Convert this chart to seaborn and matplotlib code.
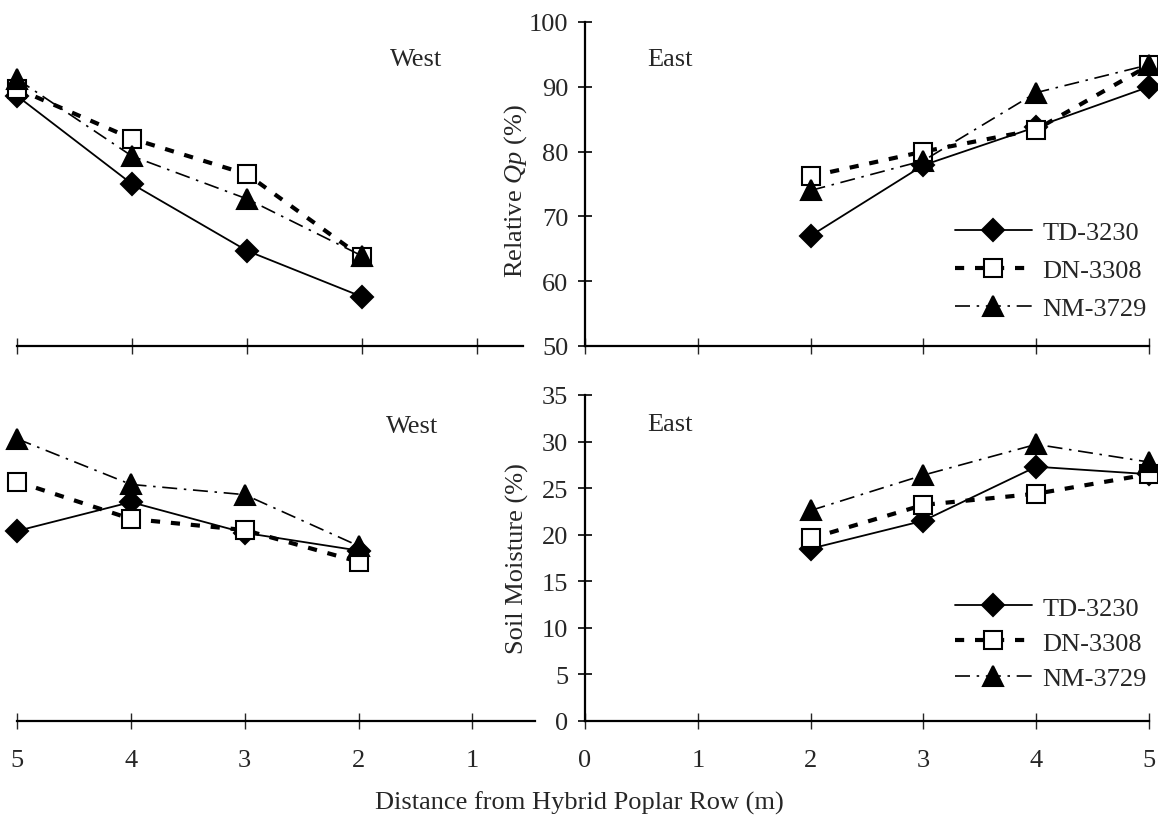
import matplotlib
matplotlib.use("Agg")
import matplotlib.pyplot as plt
import seaborn as sns

# distances from the poplar row (m)
west_x = [5, 4, 3, 2]
east_x = [2, 3, 4, 5]

# Relative Qp (%)
qp_west_td = [88.6, 75.0, 64.7, 57.6]
qp_west_dn = [89.7, 82.0, 76.5, 63.7]
qp_west_nm = [91.2, 79.3, 72.7, 63.9]
qp_east_td = [67.0, 77.9, 83.8, 90.0]
qp_east_dn = [76.2, 80.0, 83.4, 93.3]
qp_east_nm = [74.0, 78.6, 89.1, 93.4]

# Soil moisture (%)
sm_west_td = [20.4, 23.5, 20.2, 18.3]
sm_west_dn = [25.7, 21.7, 20.5, 17.1]
sm_west_nm = [30.3, 25.4, 24.3, 18.8]
sm_east_td = [18.5, 21.5, 27.3, 26.5]
sm_east_dn = [19.6, 23.2, 24.4, 26.5]
sm_east_nm = [22.6, 26.4, 29.7, 27.8]

clones = ["TD-3230", "DN-3308", "NM-3729"]

sns.set_theme(style="white")
plt.rcParams["font.family"] = ["Liberation Serif", "DejaVu Serif"]
plt.rcParams["mathtext.fontset"] = "custom"
plt.rcParams["mathtext.rm"] = "Liberation Serif"
plt.rcParams["mathtext.it"] = "Liberation Serif:italic"

FS = 19
styles = {
    "TD-3230": dict(linestyle="-", linewidth=1.3, marker="D", markersize=11,
                    markerfacecolor="black"),
    "DN-3308": dict(linestyle=(0, (2.2, 2.6)), linewidth=3.0, marker="s", markersize=12.5,
                    markerfacecolor="white"),
    "NM-3729": dict(linestyle=(0, (9, 4, 1.5, 4)), linewidth=1.2, marker="^", markersize=14,
                    markerfacecolor="black"),
}

fig = plt.figure(figsize=(11.58, 8.2), dpi=100)

W = 1158.0
H = 820.0


def add_ax(x0, x1, y0, y1):
    return fig.add_axes([x0 / W, 1 - y1 / H, (x1 - x0) / W, (y1 - y0) / H])


ax_tl = add_ax(17, 523, 23, 347)
ax_tr = add_ax(585, 1149, 23, 347)
ax_bl = add_ax(17, 535, 396, 722)
ax_br = add_ax(585, 1149, 396, 722)


def draw(ax, x, series):
    for name, vals in zip(clones, series):
        sns.lineplot(x=x, y=vals, ax=ax, color="black", markeredgecolor="black",
                     markeredgewidth=1.5, label=name, sort=False, clip_on=False,
                     zorder=3, **styles[name])


draw(ax_tl, west_x, [qp_west_td, qp_west_dn, qp_west_nm])
draw(ax_tr, east_x, [qp_east_td, qp_east_dn, qp_east_nm])
draw(ax_bl, west_x, [sm_west_td, sm_west_dn, sm_west_nm])
draw(ax_br, east_x, [sm_east_td, sm_east_dn, sm_east_nm])

for ax in (ax_tl, ax_bl):
    ax.get_legend().remove()
    ax.set_yticks([])
    for s in ("left", "top", "right"):
        ax.spines[s].set_visible(False)
    ax.set_xticks([5, 4, 3, 2, 1])

ax_tl.set_xlim(5, 0.6)
ax_bl.set_xlim(5, 0.45)

for ax in (ax_tr, ax_br):
    ax.set_xlim(0, 5)
    ax.set_xticks([0, 1, 2, 3, 4, 5])
    for s in ("top", "right"):
        ax.spines[s].set_visible(False)
    ax.spines["left"].set_linewidth(1.6)
    ax.tick_params(axis="y", direction="inout", length=10, width=1.4, pad=7,
                   labelsize=FS, left=True)

for ax in (ax_tl, ax_tr, ax_bl, ax_br):
    ax.patch.set_alpha(0)
    ax.spines["bottom"].set_linewidth(1.6)
    ax.spines["bottom"].set_color("black")
    ax.spines["left"].set_color("black")
    ax.tick_params(axis="x", direction="inout", length=12, width=1.0, pad=14,
                   labelsize=FS, bottom=True)
    ax.set_xlabel("")
    ax.set_ylabel("")

ax_tl.set_ylim(50, 100)
ax_tr.set_ylim(50, 100)
ax_tr.set_yticks([50, 60, 70, 80, 90, 100])
ax_bl.set_ylim(0, 35)
ax_br.set_ylim(0, 35)
ax_br.set_yticks([0, 5, 10, 15, 20, 25, 30, 35])

ax_tl.tick_params(axis="x", labelbottom=False)
ax_tr.tick_params(axis="x", labelbottom=False)

ax_tr.set_ylabel(r"Relative $\mathit{Qp}$ (%)", fontsize=FS)
ax_tr.yaxis.set_label_coords(-0.10, 0.48)
ax_br.set_ylabel("Soil Moisture (%)", fontsize=FS)
ax_br.yaxis.set_label_coords(-0.10, 0.5)

ax_tl.text(1.53, 94.3, "West", fontsize=FS, ha="center", va="center")
ax_tr.text(0.75, 94.3, "East", fontsize=FS, ha="center", va="center")
ax_bl.text(1.53, 31.7, "West", fontsize=FS, ha="center", va="center")
ax_br.text(0.75, 31.9, "East", fontsize=FS, ha="center", va="center")

for ax, anchor_y, spacing in ((ax_tr, 0.388, 0.56), (ax_br, 0.383, 0.44)):
    ax.legend(loc="upper left", bbox_to_anchor=(0.656, anchor_y), frameon=False,
              fontsize=FS, handlelength=2.9, handletextpad=0.4, labelspacing=spacing,
              borderpad=0, borderaxespad=0)

fig.text(579 / W, 1 - 803 / H, "Distance from Hybrid Poplar Row (m)", fontsize=FS,
         ha="center", va="center")

fig.savefig("out.png", dpi=100, facecolor="white")
